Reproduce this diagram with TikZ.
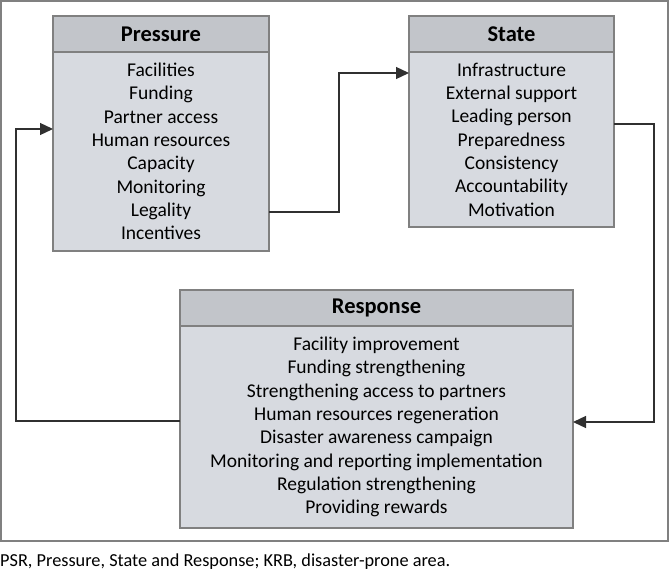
\documentclass[tikz,border=0pt]{standalone}
\usepackage{fontspec}
\setmainfont{Carlito}
\usetikzlibrary{arrows.meta,positioning}
\definecolor{headgray}{HTML}{C2C5CA}
\definecolor{bodygray}{HTML}{D7DAE0}
\definecolor{framegray}{HTML}{808080}
\definecolor{linegray}{HTML}{303030}
\tikzset{%
	header/.style  = {draw=framegray, fill=headgray, rectangle, line width=1.2pt, outer sep=0pt, inner sep=0pt, minimum height=36pt, font=\fontsize{22.5}{26}\selectfont\bfseries}, % Box title
	body/.style    = {draw=framegray, fill=bodygray, rectangle, line width=1.2pt, outer sep=0pt, inner sep=0pt, align=center, font=\fontsize{19.5}{23.3}\selectfont}, % Box items
	link/.style    = {draw=linegray, line width=1.3pt, -{Triangle[length=13pt,width=12pt]}}, % Feedback arrow
	waypoint/.style = {coordinate},
}
\begin{document}
\begin{tikzpicture}[x=1pt,y=-1pt]
	\useasboundingbox (0,0) rectangle (670,570);
	\draw[framegray, line width=1.2pt] (1,1) rectangle (668,541);
	
	\node [header, minimum width=216pt, anchor=north west] (phead) at (53,16) {Pressure};
	\node [body, minimum width=216pt, minimum height=199pt] (pbody) [below=0pt of phead]
		{Facilities\\Funding\\Partner access\\Human resources\\Capacity\\Monitoring\\Legality\\Incentives};
	\node [header, minimum width=205pt, anchor=north west] (shead) at (409,16) {State};
	\node [body, minimum width=205pt, minimum height=175pt] (sbody) [below=0pt of shead]
		{Infrastructure\\External support\\Leading person\\Preparedness\\Consistency\\Accountability\\Motivation};
	\node [header, minimum width=393pt, anchor=north west] (rhead) at (180,290) {Response};
	\node [body, minimum width=393pt, minimum height=202pt] (rbody) [below=0pt of rhead]
		{Facility improvement\\Funding strengthening\\Strengthening access to partners\\Human resources regeneration\\Disaster awareness campaign\\Monitoring and reporting implementation\\Regulation strengthening\\Providing rewards};
	
	\node [waypoint] (a1) at (339,212) {};
	\node [waypoint] (a2) at (339,73) {};
	\node [waypoint] (b1) at (654,124) {};
	\node [waypoint] (b2) at (654,422) {};
	\node [waypoint] (c1) at (16,421) {};
	\node [waypoint] (c2) at (16,129) {};
	
	\draw[link] (pbody.east |- a1) -- (a1) -- (a2) -- (sbody.west |- a2);
	\draw[link] (sbody.east |- b1) -- (b1) -- (b2) -- (rbody.east |- b2);
	\draw[link] (rbody.west |- c1) -- (c1) -- (c2) -- (pbody.west |- c2);
	
	\node [anchor=west, inner sep=0pt, font=\fontsize{18.3}{22}\selectfont] (note) at (0,562)
		{PSR, Pressure, State and Response; KRB, disaster-prone area.};
\end{tikzpicture}
\end{document}
